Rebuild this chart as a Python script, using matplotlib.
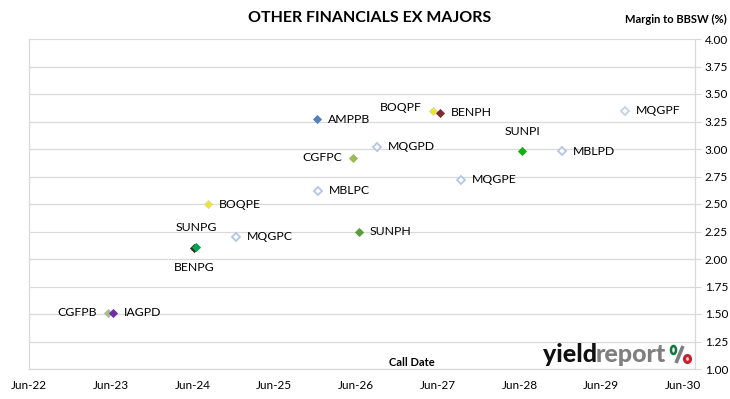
import matplotlib
matplotlib.use("Agg")
import matplotlib.pyplot as plt
import pandas as pd
from matplotlib.patches import Ellipse
from matplotlib.lines import Line2D

names = ["CGFPB", "IAGPD", "BENPG", "SUNPG", "BOQPE", "MQGPC", "MBLPC", "AMPPB",
         "CGFPC", "MQGPD", "SUNPH", "BOQPF", "BENPH", "MQGPE", "SUNPI", "MBLPD", "MQGPF"]
call_dates = ["2023-05-20", "2023-06-11", "2024-06-07", "2024-06-16", "2024-08-09",
              "2024-12-12", "2025-12-13", "2025-12-09", "2026-05-19", "2026-09-03",
              "2026-06-14", "2027-05-11", "2027-06-11", "2027-09-13", "2028-06-13",
              "2028-12-08", "2029-09-15"]
margins = [1.51, 1.51, 2.10, 2.11, 2.50, 2.20, 2.62, 3.27, 2.92, 3.02, 2.25,
           3.35, 3.33, 2.72, 2.98, 2.98, 3.35]
face_colors = ["#A9BD95", "#7030A0", "#3B2A1E", "#00A550", "#EEE62A", "white", "white", "#4F81BD",
               "#9BBB59", "white", "#5A9E3C", "#EEE62A", "#7B2C2C", "white", "#10B010", "white", "white"]
edge_colors = ["#A9BD95", "#7030A0", "#3B2A1E", "#00A550", "#D8D8A0", "#B4C6E7", "#B4C6E7", "#4F81BD",
               "#9BBB59", "#B4C6E7", "#5A9E3C", "#D8D8A0", "#7B2C2C", "#B4C6E7", "#10B010", "#B4C6E7", "#C5D1E6"]
# label placement: r=right, l=left, a=above, b=below
label_pos = ["l", "r", "b", "a", "r", "r", "r", "r", "l", "r", "r", "al", "r", "r", "a", "r", "r"]
x_ticks = ["2022-06-01", "2023-06-01", "2024-06-01", "2025-06-01", "2026-06-01",
           "2027-06-01", "2028-06-01", "2029-06-01", "2030-06-01"]
x_tick_labels = ["Jun-22", "Jun-23", "Jun-24", "Jun-25", "Jun-26", "Jun-27", "Jun-28", "Jun-29", "Jun-30"]
y_ticks = [1.00, 1.25, 1.50, 1.75, 2.00, 2.25, 2.50, 2.75, 3.00, 3.25, 3.50, 3.75, 4.00]

FONT = ["Lato", "DejaVu Sans"]
plt.rcParams['font.family'] = FONT

fig = plt.figure(figsize=(7.30, 3.99), dpi=100)
ax = fig.add_axes([29/730, 30/399, (695-29)/730, (369-39)/399])

LBL = 8.8
dates = pd.to_datetime(call_dates)
for i, n in enumerate(names):
    ax.plot(dates[i], margins[i], marker="D", markersize=4.2, linestyle="none",
            markerfacecolor=face_colors[i], markeredgecolor=edge_colors[i],
            markeredgewidth=1.3 if face_colors[i] == "white" else 0.6, zorder=3)
    p = label_pos[i]
    if p == "r":
        ax.annotate(n, (dates[i], margins[i]), xytext=(8, 0), textcoords="offset points",
                    ha="left", va="center", fontsize=LBL)
    elif p == "l":
        ax.annotate(n, (dates[i], margins[i]), xytext=(-8, 0), textcoords="offset points",
                    ha="right", va="center", fontsize=LBL)
    elif p == "a":
        ax.annotate(n, (dates[i], margins[i]), xytext=(0, 10), textcoords="offset points",
                    ha="center", va="bottom", fontsize=LBL)
    elif p == "b":
        ax.annotate(n, (dates[i], margins[i]), xytext=(0, -10), textcoords="offset points",
                    ha="center", va="top", fontsize=LBL)
    elif p == "al":
        ax.annotate(n, (dates[i], margins[i]), xytext=(-8, 2), textcoords="offset points",
                    ha="right", va="center", fontsize=LBL)

ax.set_xlim(pd.Timestamp("2022-06-01"), pd.Timestamp("2030-07-25"))
ax.set_ylim(1.0, 4.0)
ax.set_xticks(pd.to_datetime(x_ticks))
ax.set_xticklabels(x_tick_labels)
ax.set_yticks(y_ticks)
ax.set_yticklabels([f"{v:.2f}" for v in y_ticks])
ax.yaxis.tick_right()
ax.tick_params(axis="y", length=4, width=0.8, color="#D9D9D9", pad=3, labelsize=8.5)
ax.tick_params(axis="x", length=0, pad=8, labelsize=8.5)
ax.grid(axis="y", color="#D9D9D9", linewidth=0.9)
ax.set_axisbelow(True)
for s in ["left", "right", "bottom"]:
    ax.spines[s].set_color("#D9D9D9")
    ax.spines[s].set_linewidth(0.9)
ax.spines["top"].set_visible(False)

fig.text(370/730, 1 - 18/399, "OTHER FINANCIALS EX MAJORS", ha="center", va="center",
         fontsize=11.5, fontweight="bold")
fig.text(727/730, 1 - 19/399, "Margin to BBSW (%)", ha="right", va="center",
         fontsize=8, fontweight="bold")
fig.text(412/730, 1 - 362/399, "Call Date", ha="center", va="center",
         fontsize=8, fontweight="bold")

# logo
fig.text(543/730, 1 - 362/399, "yield", ha="left", va="baseline", fontsize=18,
         fontweight="black", color="#111111")
fig.text(596/730, 1 - 362/399, "report", ha="left", va="baseline", fontsize=18,
         fontweight="black", color="#7F7F7F")
fig.lines.append(Line2D([683/730, 676/730], [1 - 346/399, 1 - 363/399], transform=fig.transFigure,
                        color="#7F7F7F", linewidth=2.6, solid_capstyle="butt"))
fig.patches.append(Ellipse((673.5/730, 1 - 350/399), 5/730, 8/399, transform=fig.transFigure,
                           facecolor="white", edgecolor="#0B7A3B", linewidth=1.8, zorder=5))
fig.patches.append(Ellipse((687.5/730, 1 - 359/399), 6/730, 7/399, transform=fig.transFigure,
                           facecolor="#F2D0D0", edgecolor="#C8202C", linewidth=2.2, zorder=5))

fig.savefig("out.png", dpi=100)
